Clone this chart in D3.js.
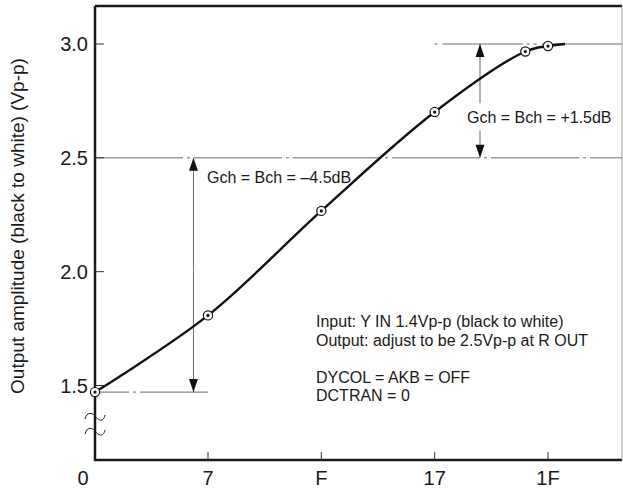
<!DOCTYPE html>
<html>
<head>
<meta charset="utf-8">
<script src="https://d3js.org/d3.v7.min.js"></script>
<style>
  body { margin: 0; background: #fff; }
  text { font-family: "Liberation Sans", Arial, Helvetica, sans-serif; fill: #1a1a1a; }
</style>
</head>
<body>
<svg id="chart" width="623" height="491"></svg>
<script>
// Data (x is the register value, hex ticks)
var curveX = [0, 7, 15, 23, 29.4, 31, 32.2];
var curveY = [1.471, 1.808, 2.267, 2.701, 2.967, 2.991, 3.0];
var markedCount = 6;   // the last curve point carries no marker

var xTickValues = [0, 7, 15, 23, 31];
var xTickLabels = ["0", "7", "F", "17", "1F"];
var yTickValues = [1.5, 2.0, 2.5, 3.0];

// reference levels: [value, start x]
var refLevels = [[3.0, 23], [2.5, 0], [1.471, 0]];
var refEnds = [null, null, 7];

var notes = ["Input: Y IN 1.4Vp-p (black to white)",
             "Output: adjust to be 2.5Vp-p at R OUT",
             "",
             "DYCOL = AKB = OFF",
             "DCTRAN = 0"];

var svg = d3.select("#chart"),
    plotLeft = 95, plotRight = 622, plotTop = 6, plotBottom = 460;

// x axis is drawn with 0 one full step before 7
var x = d3.scaleLinear().domain([0, 7, 31]).range([95, 208, 548]);
var y = d3.scaleLinear().domain([1.5, 3.0]).range([385.5, 44]);

var grey = "#6a6a6a";

// reference lines (dash-dot)
svg.append("g")
  .selectAll("line")
  .data(refLevels)
  .enter()
  .append("line")
    .attr("x1", function(d){ return x(d[1]) })
    .attr("x2", function(d, i){ return refEnds[i] == null ? plotRight : x(refEnds[i]) })
    .attr("y1", function(d){ return y(d[0]) })
    .attr("y2", function(d){ return y(d[0]) })
    .attr("stroke", grey)
    .attr("stroke-width", 1)
    .attr("stroke-dasharray", function(d, i){ return i == 0 ? "3,5,80,4,3,4" : "88,4,3,4" })
    .attr("stroke-dashoffset", function(d, i){ return i == 2 ? -45 : 0 });

// frame
svg.append("path")
  .attr("d", "M" + plotLeft + "," + plotTop + "V" + plotBottom + "H" + plotRight)
  .attr("fill", "none").attr("stroke", "#1a1a1a").attr("stroke-width", 2.5);
svg.append("line")
  .attr("x1", plotLeft).attr("x2", plotRight).attr("y1", plotTop).attr("y2", plotTop)
  .attr("stroke", "#1a1a1a").attr("stroke-width", 2.5);
svg.append("line")
  .attr("x1", plotRight).attr("x2", plotRight).attr("y1", plotTop).attr("y2", plotBottom)
  .attr("stroke", "#999").attr("stroke-width", 1);

// ticks
svg.append("g").selectAll("line")
  .data(yTickValues).enter().append("line")
    .attr("x1", plotLeft).attr("x2", plotLeft + 9)
    .attr("y1", function(d){ return y(d) }).attr("y2", function(d){ return y(d) })
    .attr("stroke", "#333").attr("stroke-width", 1);
svg.append("g").selectAll("text")
  .data(yTickValues).enter().append("text")
    .attr("x", plotLeft - 7)
    .attr("y", function(d){ return y(d) + 7 })
    .attr("text-anchor", "end")
    .style("font-size", "20px")
    .text(function(d){ return d.toFixed(1) });

svg.append("g").selectAll("line")
  .data(xTickValues.slice(1)).enter().append("line")
    .attr("x1", function(d){ return x(d) }).attr("x2", function(d){ return x(d) })
    .attr("y1", plotBottom).attr("y2", plotBottom - 8)
    .attr("stroke", "#333").attr("stroke-width", 1);
svg.append("g").selectAll("text")
  .data(xTickValues).enter().append("text")
    .attr("x", function(d, i){ return i == 0 ? x(d) - 12 : x(d) })
    .attr("y", 485)
    .attr("text-anchor", "middle")
    .style("font-size", "20px")
    .text(function(d, i){ return xTickLabels[i] });

// axis break marks
svg.append("g").selectAll("path")
  .data([416, 431]).enter().append("path")
    .attr("d", function(d){ return "M85," + (d + 3) + "C87,"+(d-5)+" 93,"+(d-3)+" 95,"+d+"S103,"+(d+8)+" 105,"+(d-1) })
    .attr("fill", "none").attr("stroke", "#1a1a1a").attr("stroke-width", 1);

// y axis title
svg.append("text")
  .attr("transform", "translate(24,226) rotate(-90)")
  .attr("text-anchor", "middle")
  .style("font-size", "19px")
  .text("Output amplitude (black to white) (Vp-p)");

// arrows
function arrow(xv, yFrom, yTo, dir) {
  var px = x(xv), tip = y(yTo);
  svg.append("line")
    .attr("x1", px).attr("x2", px).attr("y1", y(yFrom)).attr("y2", tip)
    .attr("stroke", grey).attr("stroke-width", 1);
  svg.append("path")
    .attr("d", "M" + px + "," + tip + "L" + (px - 4.5) + "," + (tip - dir * 13) + "L" + (px + 4.5) + "," + (tip - dir * 13) + "Z")
    .attr("fill", "#111");
}
arrow(6.1, 2.0, 2.5, -1);
arrow(6.1, 2.0, 1.471, 1);
arrow(26.2, 2.74, 3.0, -1);
arrow(26.2, 2.62, 2.5, 1);

svg.append("text")
  .attr("x", 207).attr("y", 183)
  .style("font-size", "16px")
  .text("Gch = Bch = \u20134.5dB");
svg.append("text")
  .attr("x", 467).attr("y", 123)
  .style("font-size", "16px")
  .text("Gch = Bch = +1.5dB");

// notes
svg.append("g").selectAll("text")
  .data(notes).enter().append("text")
    .attr("x", 316)
    .attr("y", function(d, i){ return 327 + i * 18.5 })
    .style("font-size", "16px")
    .text(function(d){ return d });

// curve
var pts = curveX.map(function(d, i){ return [d, curveY[i]] });
svg.append("path")
  .datum(pts)
  .attr("fill", "none")
  .attr("stroke", "#111")
  .attr("stroke-width", 2.4)
  .attr("d", d3.line()
    .x(function(d){ return x(d[0]) })
    .y(function(d){ return y(d[1]) })
    .curve(d3.curveCatmullRom.alpha(0.5)));

var marks = svg.append("g").selectAll("g")
  .data(pts.slice(0, markedCount)).enter().append("g")
    .attr("transform", function(d){ return "translate(" + x(d[0]) + "," + y(d[1]) + ")" });
marks.append("circle").attr("r", 4.6).attr("fill", "#fff").attr("stroke", "#111").attr("stroke-width", 1.2);
marks.append("circle").attr("r", 1.6).attr("fill", "#111");
</script>
</body>
</html>
